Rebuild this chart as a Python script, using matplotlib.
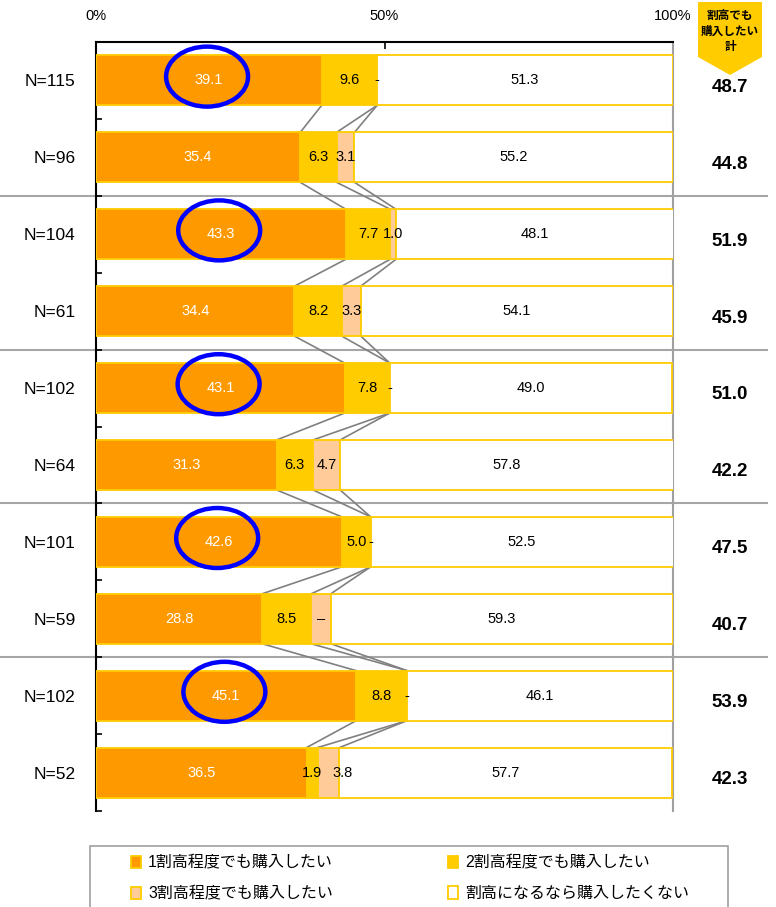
import numpy as np
import matplotlib
matplotlib.use('Agg')
import matplotlib.pyplot as plt
from matplotlib.patches import Ellipse, Polygon, Rectangle, Patch

plt.rcParams['font.family'] = ['Liberation Sans', 'Noto Sans CJK JP']

# data
n_labels = ['N=115', 'N=96', 'N=104', 'N=61', 'N=102', 'N=64', 'N=101', 'N=59', 'N=102', 'N=52']
seg1 = [39.1, 35.4, 43.3, 34.4, 43.1, 31.3, 42.6, 28.8, 45.1, 36.5]
seg2 = [9.6, 6.3, 7.7, 8.2, 7.8, 6.3, 5.0, 8.5, 8.8, 1.9]
seg3 = [0.0, 3.1, 1.0, 3.3, 0.0, 4.7, 0.0, 3.4, 0.0, 3.8]
seg3_labels = ['-', '3.1', '1.0', '3.3', '-', '4.7', '-', '–', '-', '3.8']
seg4 = [51.3, 55.2, 48.1, 54.1, 49.0, 57.8, 52.5, 59.3, 46.1, 57.7]
totals = [48.7, 44.8, 51.9, 45.9, 51.0, 42.2, 47.5, 40.7, 53.9, 42.3]
circled_rows = [0, 2, 4, 6, 8]
legend_labels = ['1割高程度でも購入したい', '2割高程度でも購入したい',
                 '3割高程度でも購入したい', '割高になるなら購入したくない']
badge_text = '割高でも\n購入したい\n計'

colors = ['#FF9900', '#FFCC00', '#FFCC99', '#FFFFFF']
edge = '#FFCC00'
W, H = 776, 907


def fx(px):
    return px / W


def fy(py):
    return 1 - py / H


fig = plt.figure(figsize=(W / 100, H / 100), dpi=100)
ax = fig.add_axes([fx(96), fy(811), 577 / W, 769 / H])

n = len(seg1)
y = np.arange(n) + 0.5
h = 0.65
segs = [np.array(seg1), np.array(seg2), np.array(seg3), np.array(seg4)]
left = np.zeros(n)
lefts = []
for k, s in enumerate(segs):
    ax.barh(y, s, left=left, height=h, color=colors[k], edgecolor=edge,
            linewidth=1.3, zorder=3)
    lefts.append(left.copy())
    left = left + s

# series lines between neighbouring bars
cum = [lefts[1], lefts[2], lefts[3]]
for i in range(n - 1):
    for c in cum:
        ax.plot([c[i], c[i + 1]], [y[i] + h / 2, y[i + 1] - h / 2],
                color='#808080', lw=1.2, zorder=2)

# value labels
fs = 10.5
for i in range(n):
    ax.text(lefts[0][i] + seg1[i] / 2, y[i], f'{seg1[i]:.1f}', color='white',
            ha='center', va='center', fontsize=fs, zorder=6)
    ax.text(lefts[1][i] + seg2[i] / 2, y[i], f'{seg2[i]:.1f}', color='black',
            ha='center', va='center', fontsize=fs, zorder=6)
    dx = 2.4 if i == 9 else 0
    ax.text(lefts[2][i] + seg3[i] / 2 + dx, y[i], seg3_labels[i], color='black',
            ha='center', va='center', fontsize=fs, zorder=6)
    ax.text(lefts[3][i] + seg4[i] / 2, y[i], f'{seg4[i]:.1f}', color='black',
            ha='center', va='center', fontsize=fs, zorder=6)
    ax.text(109.9, y[i] + 0.09, f'{totals[i]:.1f}', ha='center', va='center',
            fontsize=13.5, fontweight='bold', clip_on=False)

# blue circles
for i in circled_rows:
    ax.add_patch(Ellipse((seg1[i] / 2 - 0.3, y[i] - 0.05), width=14.2, height=0.78,
                         fill=False, edgecolor='#0000FF', lw=3.2, zorder=7))

# separators between groups
for b in [2, 4, 6, 8]:
    ax.plot([-16.6, 116.3], [b, b], color='#A6A6A6', lw=1.5, clip_on=False, zorder=1)

ax.set_xlim(0, 100)
ax.set_ylim(n, 0)
ax.xaxis.set_ticks_position('top')
ax.set_xticks([0, 50, 100])
ax.set_xticklabels(['0%', '50%', '100%'])
ax.tick_params(axis='x', direction='in', length=5, width=1.2, pad=14, labelsize=10.5)
ax.set_yticks(np.arange(n + 1))
ax.set_yticklabels([])
ax.set_yticks(y, minor=True)
ax.set_yticklabels(n_labels, minor=True)
ax.tick_params(axis='y', which='major', direction='in', length=4, width=1.2)
ax.tick_params(axis='y', which='minor', length=0, pad=14.5, labelsize=12.5)
ax.spines['bottom'].set_visible(False)
ax.spines['left'].set_linewidth(1.5)
ax.spines['top'].set_linewidth(1.5)
ax.spines['right'].set_color('#A0A0A0')
ax.spines['right'].set_linewidth(1.5)

# header badge
badge = Polygon([(fx(698), fy(2)), (fx(762), fy(2)), (fx(762), fy(57)),
                 (fx(730), fy(75)), (fx(698), fy(57))], closed=True,
                transform=fig.transFigure, facecolor='#FFCC00', edgecolor='none')
fig.patches.append(badge)
fig.text(fx(730), fy(31), badge_text, ha='center', va='center', fontsize=8.4,
         fontweight='bold', linespacing=1.25, family=['Noto Sans CJK JP'])

# legend
fig.patches.append(Rectangle((fx(90), fy(912)), fx(638), 66 / H, transform=fig.transFigure,
                             facecolor='white', edgecolor='#A0A0A0', lw=1.2))
handles = [Patch(facecolor=colors[k], edgecolor=edge, lw=1.3) for k in range(4)]
order = [0, 2, 1, 3]
fig.legend([handles[k] for k in order], [legend_labels[k] for k in order],
           ncol=2, loc='upper left', bbox_to_anchor=(fx(117), fy(841)),
           frameon=False, fontsize=11.5, handlelength=0.6, handleheight=0.85,
           handletextpad=0.45, columnspacing=7.2, labelspacing=1.0)

fig.savefig('out.png', dpi=100)
